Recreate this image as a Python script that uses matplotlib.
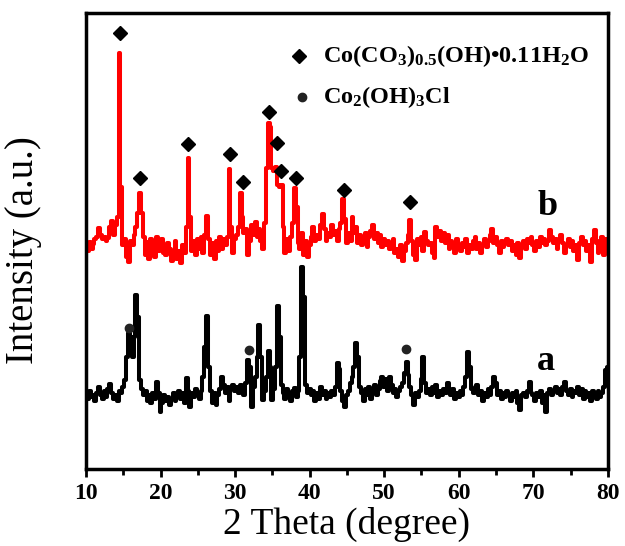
import numpy as np
import matplotlib
matplotlib.use("Agg")
from matplotlib import pyplot as plt

plt.rcParams['font.family'] = ['Liberation Serif', 'DejaVu Serif']
plt.rcParams['mathtext.fontset'] = 'custom'
plt.rcParams['mathtext.rm'] = 'Liberation Serif:bold'
plt.rcParams['mathtext.it'] = 'Liberation Serif:italic:bold'
plt.rcParams['mathtext.bf'] = 'Liberation Serif:bold'

#scan grid, 10-80 degrees in 0.25 degree steps
two_theta = np.linspace(10, 80, 281)

#pattern b (red), one row per degree
int_b = [
    2, -4, 5, -2,   3, 8, 10, 19,   12, 8, 10, 6,   9, 20, 26, 12,
    22, 30, 194, 60,   2, 8, -10, -15,   6, 2, 12, 20,   34, 54, 34, 10,
    -8, 5, -12, 8,   2, -10, 10, -4,   6, 8, -6, -8,   4, -2, -14, -10,
    6, -12, -4, -16,   2, -6, 20, 89,   30, -4, 6, -8,   8, -2, 10, -6,
    12, 31, 8, -8,   4, -12, 6, -4,   10, -2, 8, 2,   10, 78, 20, -6,
    8, 12, 20, 54,   30, 14, 18, -8,   6, 22, 12, 25,   10, 18, 6, -2,
    24, 79, 124, 120,   79, 76, 80, 62,   60, 62, 20, -6,   8, -4, 10, 24,
    59, 40, 4, -2,   14, -8, 6, -10,   2, 10, 20, 6,   12, 8, 22, 33,
    18, 6, 14, 10,   22, 12, 16, 6,   18, 24, 48, 28,   4, 14, 6, 30,
    14, 20, 4, 12,   2, 8, 14, 0,   10, 16, 22, 8,   14, 4, 12, 0,
    8, 2, 6, -2,   4, 8, -6, -2,   -10, 2, -14, -4,   4, 12, 27, 6,
    -8, -13, 8, 2,   10, -4, 15, 6,   2, 4, -6, -11,   20, 10, 16, 6,
    14, 4, 12, -2,   6, 2, -6, 8,   2, -4, 4, 0,   8, -6, 2, -2,
    6, 10, -2, 4,   -6, 2, 8, 0,   6, 12, 18, 4,   10, 2, -6, 6,
    0, 4, 8, 2,   6, -4, 2, -8,   4, -11, 2, 6,   -2, 8, 4, 10,
    2, -4, 6, 0,   10, 4, 8, 2,   6, 17, 10, 4,   8, -2, 6, 12,
    4, -6, 2, 8,   0, 6, -4, 2,   -13, 4, 10, 2,   6, -4, 2, -15,
    8, 17, 4, -6,   6, 10, -8, 8,
    2,
]

#pattern a (black)
int_a = [
    4, -2, 6, 0,   2, -4, 4, 10,   2, -2, 6, 0,   8, 13, 4, -2,
    2, -4, 6, 4,   10, 17, 40, 64,   60, 40, 60, 102,   80, 17, 8, 2,
    6, -4, 2, -6,   4, -2, 15, 4,   -15, -6, 2, -4,   0, -8, -2, 4,
    -4, 2, 6, -2,   4, -6, 19, 6,   -10, 4, 0, 8,   4, -2, 6, 20,
    50, 81, 30, 6,   -6, 4, -8, 2,   8, 20, 12, 4,   10, -4, 8, 12,
    6, 10, 4, 12,   8, 2, 14, 37,   30, -10, 10, 20,   40, 72, 40, -3,
    6, 20, 46, 30,   -3, 8, 30, 91,   60, 12, 4, -2,   8, 2, -4, 6,
    9, 0, 6, 40,   130, 100, 12, 4,   8, 2, 6, -4,   4, -2, 10, 2,
    6, -2, 4, 0,   6, 2, 10, 34,   28, 6, -4, -10,   2, 6, 14, 20,
    30, 54, 40, 10,   4, -4, 8, 2,   10, -2, 6, 12,   2, 8, 16, 20,
    10, 18, 6, 20,   12, 4, 8, 0,   6, 10, 14, 24,   35, 22, 10, 2,
    -8, 4, 0, 6,   18, 40, 14, 4,   8, 2, 10, 4,   12, 0, 6, 2,
    8, 4, 14, 6,   2, 8, -2, 4,   0, 6, 2, 10,   20, 45, 30, 8,
    4, 10, 12, 2,   6, -4, 4, 0,   8, 2, 10, 20,   14, 2, 6, -2,
    4, 0, 6, 2,   -4, 4, 0, 6,   -6, -13, 2, 4,   0, 6, 15, 4,
    2, -4, 4, 0,   6, -6, 2, -15,   4, 8, 2, 6,   10, 4, 8, 2,
    10, 15, 6, 2,   8, 0, 6, 4,   10, 2, 8, -2,   6, 0, 4, -4,
    6, 2, -2, 6,   0, 4, 10, 27,
    30,
]

offset_a = 72
offset_b = 222

#peak markers (2theta, intensity above baseline)
carbonate_tt = [14.55, 17.3, 23.7, 29.3, 31.0, 34.6, 35.6, 36.2, 38.2, 44.6, 53.5]
carbonate_h = [214, 69, 103, 93, 65, 135, 104, 76, 69, 57, 45]
chloride_tt = [15.8, 31.9, 52.9]
chloride_h = [69, 47, 48]

fig = plt.figure(figsize=(6.25, 5.46), dpi=100)
ax = fig.add_axes([0.1376, 0.141, 0.835, 0.835])

ax.plot(two_theta, np.array(int_a) + offset_a, color='black', lw=2.9,
        drawstyle='steps-mid')
ax.plot(two_theta, np.array(int_b) + offset_b, color='red', lw=2.9,
        drawstyle='steps-mid')

ax.plot(carbonate_tt, np.array(carbonate_h) + offset_b, 'D', color='black', ms=7, ls='none')
ax.plot(chloride_tt, np.array(chloride_h) + offset_a, 'o', color='#222222', ms=6, ls='none')

#legend drawn by hand
ax.plot([0.408], [0.906], 'D', color='black', ms=7, transform=ax.transAxes)
ax.plot([0.414], [0.816], 'o', color='#222222', ms=6, transform=ax.transAxes)
ax.text(0.455, 0.906, r'Co(CO$_3$)$_{0.5}$(OH)•0.11H$_2$O', transform=ax.transAxes,
        fontsize=17.5, fontweight='bold', va='center', ha='left')
ax.text(0.455, 0.816, r'Co$_2$(OH)$_3$Cl', transform=ax.transAxes,
        fontsize=17.5, fontweight='bold', va='center', ha='left')

ax.text(0.885, 0.575, 'b', transform=ax.transAxes, fontsize=26, fontweight='bold',
        ha='center', va='center')
ax.text(0.881, 0.235, 'a', transform=ax.transAxes, fontsize=26, fontweight='bold',
        ha='center', va='center')

ax.set_xlim(10, 80)
ax.set_ylim(0, 456)
ax.set_xticks(np.arange(10, 81, 10))
ax.set_xticks(np.arange(15, 80, 10), minor=True)
ax.set_yticks([])
ax.tick_params(axis='x', which='major', direction='out', length=6, width=2, pad=4,
               labelsize=17)
ax.tick_params(axis='x', which='minor', direction='out', length=4, width=2)
for lab in ax.get_xticklabels():
    lab.set_fontweight('bold')
for sp in ax.spines.values():
    sp.set_linewidth(2.5)

ax.set_xlabel('2 Theta (degree)', fontsize=27, labelpad=2)
ax.set_ylabel('Intensity (a.u.)', fontsize=28)
ax.yaxis.set_label_coords(-0.085, 0.48)

fig.savefig('out.png', dpi=100)
